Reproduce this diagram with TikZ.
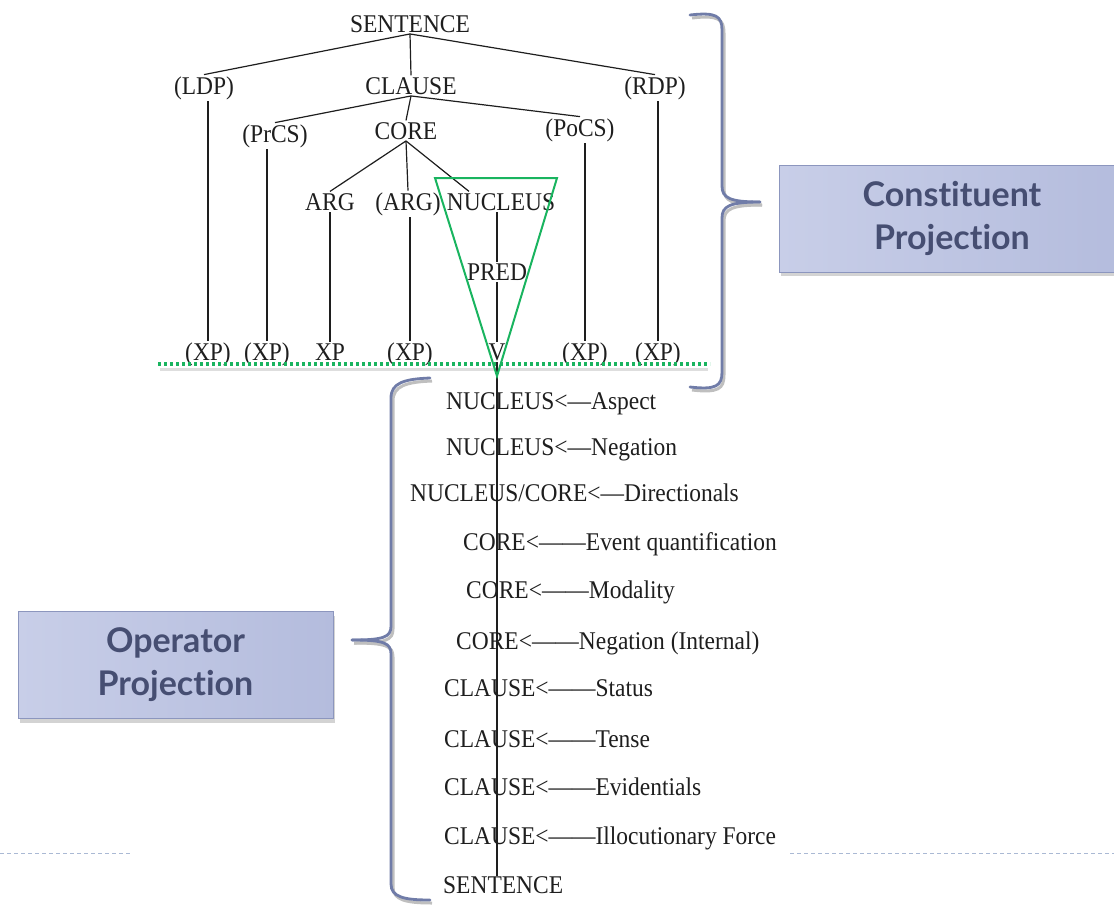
\documentclass[tikz,border=0pt]{standalone}
\usepackage{fontspec}
\setmainfont{Liberation Serif}[FakeStretch=0.92]
\newfontfamily\boxfont{Lato}[Ligatures=NoCommon]
\usetikzlibrary{shadows,calc}
\definecolor{bracecol}{RGB}{112,124,168}
\definecolor{boxtxt}{RGB}{70,78,114}
\definecolor{boxA}{RGB}{200,206,232}
\definecolor{boxB}{RGB}{180,188,221}
\definecolor{boxbrd}{RGB}{140,150,190}
\definecolor{grn}{RGB}{25,180,95}
\definecolor{ink}{RGB}{30,30,30}
\definecolor{dashcol}{RGB}{170,185,212}
\begin{document}
\begin{tikzpicture}[x=1pt,y=-1pt,
  lbl/.style={font=\fontsize{25.5}{27}\selectfont, text=ink, inner sep=1.5pt, anchor=base},
  oprow/.style={font=\fontsize{25.5}{27}\selectfont, text=ink, inner sep=0pt, anchor=base west},
  edge/.style={draw=ink, line width=1.2pt},
  bracepath/.style={draw=bracecol, line width=2.8pt, line cap=round,
     preaction={draw=black!25, line width=3pt, transform canvas={shift={(2pt,-3pt)}}}},
  projbox/.style={draw=boxbrd, line width=1pt, left color=boxA, right color=boxB,
     minimum height=107pt, align=center, text=boxtxt,
     font=\boxfont\bfseries\fontsize{34}{43}\selectfont,
     drop shadow={shadow xshift=2pt, shadow yshift=-4pt, opacity=0.35}},
  tri/.style={draw=grn, line width=2pt, line join=miter},
  dotline/.style={draw=grn, line width=3.4pt, dash pattern=on 3pt off 3pt},
  slidedash/.style={draw=dashcol, line width=1pt, dash pattern=on 4pt off 3pt}
]
\useasboundingbox (0,0) rectangle (1114,905);

% boxes
\node[projbox, minimum width=346pt] (cp) at (952,218.5) {Constituent\\Projection};
\node[projbox, minimum width=315pt] (op) at (175.5,665) {Operator\\Projection};

% braces
\draw[bracepath] (690,15) .. controls (716,12) and (722,16) .. (722,30) -- (722,186)
   .. controls (722,198) and (730,202) .. (760,202);
\draw[bracepath] (760,202) .. controls (730,202) and (722,206) .. (722,218) -- (722,372)
   .. controls (722,386) and (716,390) .. (690,387);
\draw[bracepath] (430,378) .. controls (404,379) and (391,383) .. (391,398) -- (391,626)
   .. controls (391,637) and (384,640) .. (352,640);
\draw[bracepath] (352,640) .. controls (384,640) and (391,643) .. (391,654) -- (391,884)
   .. controls (391,897) and (404,900) .. (430,900);

% tree labels
\node[lbl] (S) at (410,32) {SENTENCE};
\node[lbl] (LDP) at (204,94) {(LDP)};
\node[lbl] (CL) at (411,94) {CLAUSE};
\node[lbl] (RDP) at (655,94) {(RDP)};
\node[lbl] (PrCS) at (275,142) {(PrCS)};
\node[lbl] (CO) at (406,139) {CORE};
\node[lbl] (PoCS) at (580,136) {(PoCS)};
\node[lbl] (ARG) at (330,210) {ARG};
\node[lbl] (ARGo) at (408,210) {(ARG)};
\node[lbl] (NUC) at (501,210) {NUCLEUS};
\node[lbl] (PRED) at (497,280) {PRED};
\node[lbl] (XP1) at (208,360) {(XP)};
\node[lbl] (XP2) at (267,360) {(XP)};
\node[lbl] (XP3) at (330,360) {XP};
\node[lbl] (XP4) at (410,360) {(XP)};
\node[lbl] (V) at (497,360) {V};
\node[lbl] (XP6) at (585,360) {(XP)};
\node[lbl] (XP7) at (658,360) {(XP)};

% tree edges
\draw[edge] (S.south) -- (LDP.north);
\draw[edge] (S.south) -- (CL.north);
\draw[edge] (S.south) -- (RDP.north);
\draw[edge] (CL.south) -- (PrCS.north);
\draw[edge] (CL.south) -- (CO.north);
\draw[edge] (CL.south) -- (PoCS.north);
\draw[edge] (CO.south) -- (ARG.north);
\draw[edge] (CO.south) -- (ARGo.north);
\draw[edge] (CO.south) -- ($(NUC.north)+(-32,0)$);
\draw[edge] (XP1.north) -- (XP1.north |- LDP.south);
\draw[edge] (XP2.north) -- (XP2.north |- PrCS.south);
\draw[edge] (XP3.north) -- (XP3.north |- ARG.south);
\draw[edge] (XP4.north) -- (XP4.north |- ARGo.south);
\draw[edge] (PRED.north) -- (PRED.north |- NUC.south);
\draw[edge] (V.north) -- (PRED.south);
\draw[edge] (XP6.north) -- (XP6.north |- PoCS.south);
\draw[edge] (XP7.north) -- (XP7.north |- RDP.south);

% dotted baseline
\draw[draw=black!13, line width=3pt] (160,369) -- (708,369);
\coordinate (dl) at (158,364);
\coordinate (dr) at (710,364);
\draw[dotline] (dl) -- (dr);

% operator projection
\node[oprow] (o1) at (446,409) {NUCLEUS<—Aspect};
\node[oprow] (o2) at (446,455) {NUCLEUS<—Negation};
\node[oprow] (o3) at (410,501) {NUCLEUS/CORE<—Directionals};
\node[oprow] (o4) at (463,550) {CORE<——Event quantification};
\node[oprow] (o5) at (466,598) {CORE<——Modality};
\node[oprow] (o6) at (456,649) {CORE<——Negation (Internal)};
\node[oprow] (o7) at (444,696) {CLAUSE<——Status};
\node[oprow] (o8) at (444,747) {CLAUSE<——Tense};
\node[oprow] (o9) at (444,795) {CLAUSE<——Evidentials};
\node[oprow] (o10) at (444,844) {CLAUSE<——Illocutionary Force};
\node[oprow] (bot) at (443,893) {SENTENCE};
\draw[edge] (V.south) -- (V.south |- bot.north);

% green triangle
\coordinate (apex) at ($(V.south)+(0,14)$);
\draw[tri] (435,178) -- (557,178) -- (apex) -- cycle;

% slide decoration dashes
\coordinate (d1a) at (0,853);
\coordinate (d1b) at (130,853);
\coordinate (d2a) at (790,853);
\coordinate (d2b) at (1114,853);
\draw[slidedash] (d1a) -- (d1b);
\draw[slidedash] (d2a) -- (d2b);
\end{tikzpicture}
\end{document}
